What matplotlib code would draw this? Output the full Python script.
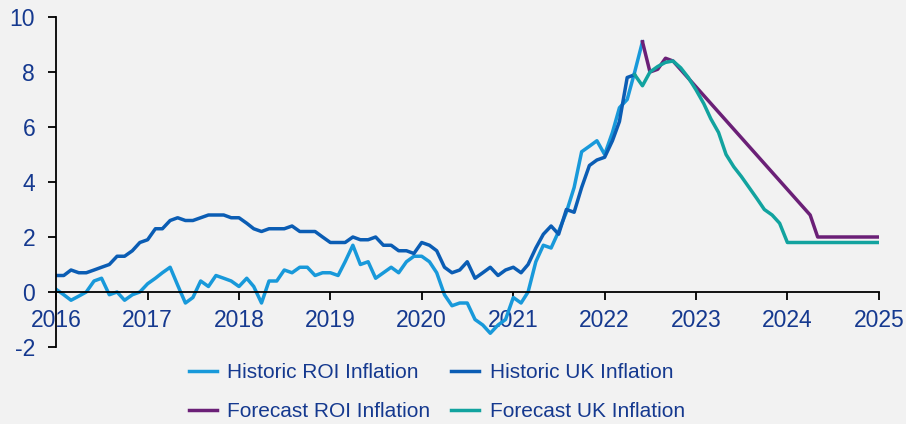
import matplotlib
matplotlib.use('Agg')
import matplotlib.pyplot as plt
import matplotlib.dates as mdates
import pandas as pd

# monthly inflation, % y/y
hist_roi = [0.1, -0.1, -0.3, -0.15, 0.0, 0.4, 0.5, -0.1, 0.0, -0.3, -0.1, 0.0,
            0.3, 0.5, 0.7, 0.9, 0.25, -0.4, -0.2, 0.4, 0.2, 0.6, 0.5, 0.4,
            0.2, 0.5, 0.2, -0.4, 0.4, 0.4, 0.8, 0.7, 0.9, 0.9, 0.6, 0.7,
            0.7, 0.6, 1.1, 1.7, 1.0, 1.1, 0.5, 0.7, 0.9, 0.7, 1.1, 1.3,
            1.3, 1.1, 0.7, -0.1, -0.5, -0.4, -0.4, -1.0, -1.2, -1.5, -1.2, -1.0,
            -0.2, -0.4, 0.0, 1.1, 1.7, 1.6, 2.2, 2.9, 3.8, 5.1, 5.3, 5.5,
            5.0, 5.8, 6.7, 7.0, 8.0, 9.1]
hist_uk = [0.6, 0.6, 0.8, 0.7, 0.7, 0.8, 0.9, 1.0, 1.3, 1.3, 1.5, 1.8,
           1.9, 2.3, 2.3, 2.6, 2.7, 2.6, 2.6, 2.7, 2.8, 2.8, 2.8, 2.7,
           2.7, 2.5, 2.3, 2.2, 2.3, 2.3, 2.3, 2.4, 2.2, 2.2, 2.2, 2.0,
           1.8, 1.8, 1.8, 2.0, 1.9, 1.9, 2.0, 1.7, 1.7, 1.5, 1.5, 1.4,
           1.8, 1.7, 1.5, 0.9, 0.7, 0.8, 1.1, 0.5, 0.7, 0.9, 0.6, 0.8,
           0.9, 0.7, 1.0, 1.6, 2.1, 2.4, 2.1, 3.0, 2.9, 3.8, 4.6, 4.8,
           4.9, 5.5, 6.2, 7.8, 7.9]

fc_roi_dates = ['2022-06', '2022-07', '2022-08', '2022-09', '2022-10',
                '2024-04', '2024-05', '2025-01']
fc_roi = [9.1, 8.0, 8.1, 8.5, 8.4, 2.8, 2.0, 2.0]

fc_uk_dates = ['2022-05', '2022-06', '2022-07', '2022-08', '2022-09', '2022-10',
               '2022-11', '2022-12', '2023-01', '2023-02', '2023-03', '2023-04',
               '2023-05', '2023-06', '2023-07', '2023-08', '2023-09', '2023-10',
               '2023-11', '2023-12', '2024-01', '2025-01']
fc_uk = [7.9, 7.5, 8.0, 8.2, 8.35, 8.4, 8.15, 7.8, 7.35, 6.85, 6.3, 5.8,
         5.0, 4.55, 4.2, 3.8, 3.4, 3.0, 2.8, 2.5, 1.8, 1.8]

years = list(range(2016, 2026))

txt = '#15398f'
plt.rcParams['font.family'] = ['Liberation Sans', 'DejaVu Sans']
plt.rcParams['axes.unicode_minus'] = False

fig = plt.figure(figsize=(9.06, 4.24), dpi=100, facecolor='#f2f2f2')
ax = fig.add_axes([56/906, 1 - 347/424, 823/906, 330/424])
ax.set_facecolor('#f2f2f2')

x_roi = pd.date_range('2016-01-01', periods=len(hist_roi), freq='MS')
x_uk = pd.date_range('2016-01-01', periods=len(hist_uk), freq='MS')

lw = 2.5
l1, = ax.plot(x_roi, hist_roi, color='#1899da', lw=lw, label='Historic ROI Inflation')
l2, = ax.plot(x_uk, hist_uk, color='#0b5db4', lw=lw, label='Historic UK Inflation')
l3, = ax.plot(pd.to_datetime(fc_roi_dates), fc_roi, color='#6b2077', lw=lw,
              label='Forecast ROI Inflation')
l4, = ax.plot(pd.to_datetime(fc_uk_dates), fc_uk, color='#12a39f', lw=lw,
              label='Forecast UK Inflation')

ax.set_xlim(pd.Timestamp('2016-01-01'), pd.Timestamp('2025-01-01'))
ax.set_ylim(-2, 10)
ax.set_yticks([-2, 0, 2, 4, 6, 8, 10])
ax.set_xticks([pd.Timestamp(f'{y}-01-01') for y in years])
ax.xaxis.set_major_formatter(mdates.DateFormatter('%Y'))

for s in ['top', 'right']:
    ax.spines[s].set_visible(False)
ax.spines['bottom'].set_position(('data', 0))
ax.spines['bottom'].set_linewidth(1.3)
ax.spines['left'].set_linewidth(1.3)
ax.tick_params(axis='both', colors='black', labelcolor=txt, labelsize=16.5,
               width=1.3, length=6)
ax.tick_params(axis='y', pad=9)
ax.tick_params(axis='x', pad=6)

fig.legend([l1, l3, l2, l4], [l.get_label() for l in [l1, l3, l2, l4]],
           ncol=2, loc='center', bbox_to_anchor=(437/906, 1 - 392/424),
           frameon=False, fontsize=15, labelcolor=txt, handlelength=1.33,
           handletextpad=0.52, columnspacing=1.0, labelspacing=0.95)

fig.savefig('out.png', dpi=100, facecolor=fig.get_facecolor())
